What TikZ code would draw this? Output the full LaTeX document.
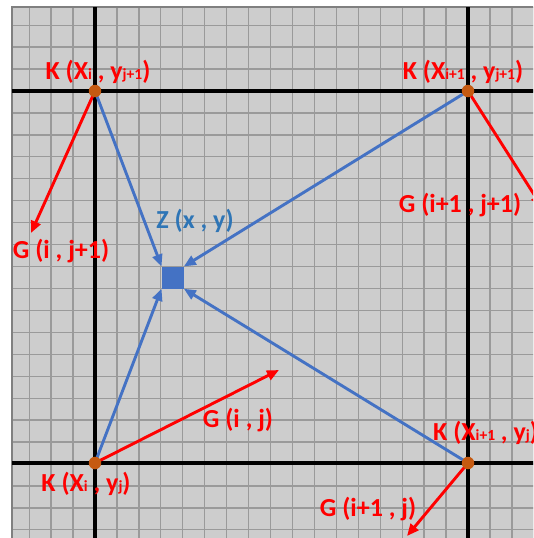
\documentclass[tikz,border=0pt]{standalone}
\usepackage{fontspec}
\setmainfont{Carlito}
\usetikzlibrary{arrows.meta,positioning}

\definecolor{paper}{HTML}{CDCDCD}
\definecolor{gridgray}{HTML}{9A9A9A}
\definecolor{framegray}{HTML}{808080}
\definecolor{knotorange}{HTML}{C55A11}
\definecolor{zblue}{HTML}{4472C4}
\definecolor{zlabelblue}{HTML}{2E75B6}

% small indices sitting on the baseline
\newcommand{\idx}[1]{{\fontsize{15.5}{15.5}\selectfont #1}}

\begin{document}
\begin{tikzpicture}[
  x=1pt, y=-1pt,
  font=\fontsize{26}{26}\selectfont\bfseries,
  gridline/.style={draw=gridgray, line width=1.3pt},
  axisline/.style={draw=black, line width=3.6pt},
  knot/.style={circle, fill=knotorange, inner sep=0pt, minimum size=12.5pt},
  target/.style={fill=zblue, inner sep=0pt, minimum size=21.9pt},
  toz/.style={-{Triangle[length=12pt,width=10pt]}, line width=2.9pt, draw=zblue},
  grad/.style={-{Triangle[length=12pt,width=10pt]}, line width=2.9pt, draw=red},
  redlabel/.style={text=red, inner sep=0pt},
  zlabel/.style={text=zlabelblue, inner sep=0pt}
]
\useasboundingbox (0,0) rectangle (533,538);
\clip (0,0) rectangle (533,538);

% paper and grid
\fill[paper] (12,7) rectangle (540,545);
\foreach \k in {-3,...,20} {
  \draw[gridline] ({95+\k*21.94},7) -- ({95+\k*21.94},545);
  \draw[gridline] (12,{91+\k*21.94}) -- (545,{91+\k*21.94});
}
\draw[framegray, line width=2pt] (12,545) -- (12,7) -- (545,7);

% the four grid points
\coordinate (kTL) at (95,91);
\coordinate (kTR) at (468,91);
\coordinate (kBL) at (95,463);
\coordinate (kBR) at (468,463);

\draw[axisline] (kTL |- 0,7) -- (kTL |- 0,545);
\draw[axisline] (kTR |- 0,7) -- (kTR |- 0,545);
\draw[axisline] (kTL -| 12,0) -- (kTL -| 545,0);
\draw[axisline] (kBL -| 12,0) -- (kBL -| 545,0);

% the point Z
\node[target] (zsq) at (172.7,277.6) {};

% free ends of the gradients
\coordinate (gTL) at (31,233);
\coordinate (gTR) at (542,207);
\coordinate (gBL) at (279,370);
\coordinate (gBR) at (407,536);

\draw[toz] (kTL) -- (zsq.north west);
\draw[toz] (kTR) -- (zsq.north east);
\draw[toz] (kBL) -- (zsq.south west);
\draw[toz] (kBR) -- (zsq.south east);

\draw[grad] (kTL) -- (gTL);
\draw[grad] (kTR) -- (gTR);
\draw[grad] (kBL) -- (gBL);
\draw[grad] (kBR) -- (gBR);

\node[knot] (dotTL) at (kTL) {};
\node[knot] (dotTR) at (kTR) {};
\node[knot] (dotBL) at (kBL) {};
\node[knot] (dotBR) at (kBR) {};

% labels
\node[redlabel] (lkTL) at (98,72) {K (X\idx{i} , y\idx{j+1})};
\node[redlabel] (lkTR) at (463,72) {K (X\idx{i+1} , y\idx{j+1})};
\node[redlabel] (lkBL) at (86,484) {K (X\idx{i} , y\idx{j})};
\node[redlabel, anchor=west] (lkBR) at (433,433) {K (X\idx{i+1} , y\idx{j})};
\node[zlabel] (lz) at (195,221) {Z (x , y)};
\node[redlabel] (lgTL) at (61,251) {G (i , j+1)};
\node[redlabel] (lgTR) at (460,205) {G (i+1 , j+1)};
\node[redlabel] (lgBL) at (238,420) {G (i , j)};
\node[redlabel] (lgBR) at (368,509) {G (i+1 , j)};
\end{tikzpicture}
\end{document}
